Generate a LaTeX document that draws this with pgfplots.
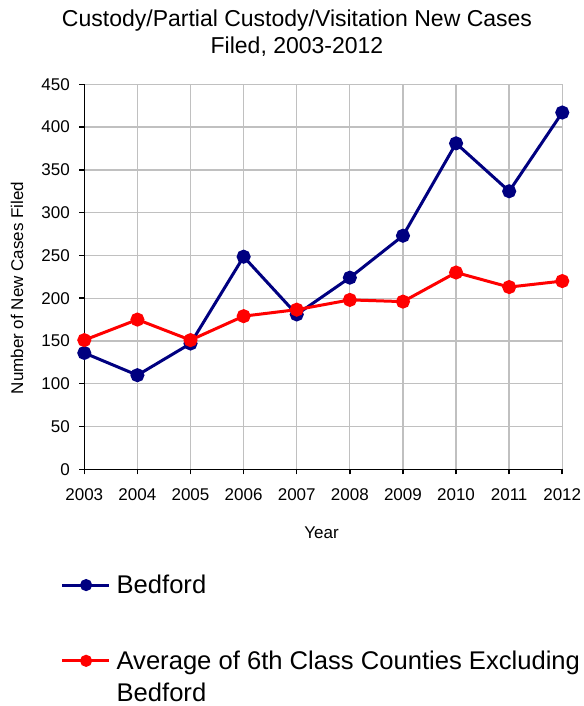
\documentclass[border=0pt]{standalone}
\usepackage{pgfplots}
\pgfplotsset{compat=1.18}
\usepackage{fontspec}
\setmainfont{Liberation Sans}
\definecolor{navyb}{RGB}{0,0,128}
\definecolor{redl}{RGB}{255,0,0}
\definecolor{gridg}{RGB}{192,192,192}
\begin{document}
\begin{tikzpicture}
\path[use as bounding box] (-84.3pt,-236.7pt) rectangle (498.7pt,469.3pt);
\begin{axis}[
  scale only axis,
  width=478pt, height=385pt,
  xmin=2003, xmax=2012, ymin=0, ymax=450,
  xtick={2003,2004,...,2012},
  ytick={0,50,...,450},
  /pgf/number format/assume math mode=true,
  x tick label style={/pgf/number format/1000 sep={}, yshift=-11pt},
  y tick label style={xshift=-6pt},
  axis x line*=bottom, axis y line*=left,
  axis line style={-, line width=1.5pt, black},
  tick align=outside,
  major tick length=5pt,
  tick style={line width=1.5pt, black},
  grid=major,
  grid style={line width=1.3pt, gridg},
  ticklabel style={font=\fontsize{17}{20}\selectfont},
  xlabel={Year},
  xlabel style={font=\fontsize{17}{20}\selectfont, at={(axis description cs:0.4965,-0.181)}, anchor=base},
  ylabel={Number of New Cases Filed},
  ylabel style={font=\fontsize{17}{20}\selectfont, at={(axis description cs:-0.1408,0.471)}, anchor=center, rotate=0},
  legend image code/.code={\draw[mark repeat=2,mark phase=2,mark size=4.5pt,#1] plot coordinates {(0pt,9pt)(24pt,9pt)(47pt,9pt)};},
  legend style={at={(axis description cs:-0.0500,-0.2885)}, anchor=north west, draw=none, fill=none,
    inner sep=0pt, column sep=6pt, row sep=61.5pt,
    font=\fontsize{25.6}{32}\selectfont,
    nodes={inner sep=0pt, anchor=west}},
  legend cell align=left,
  clip=false,
]
\addplot[navyb, line width=3pt, mark=*, mark size=5.5pt] coordinates {
(2003,136) (2004,110) (2005,147) (2006,248.5) (2007,181) (2008,224) (2009,273) (2010,381) (2011,325) (2012,417)};
\addlegendentry{\smash{Bedford}}
\addplot[redl, line width=3pt, mark=*, mark size=5.5pt] coordinates {
(2003,151) (2004,175) (2005,151) (2006,179) (2007,186.6) (2008,198) (2009,196) (2010,230) (2011,213) (2012,220)};
\addlegendentry{\smash{\begin{tabular}[t]{@{}l@{}}Average of 6th Class Counties Excluding\\Bedford\end{tabular}}}
\end{axis}
\node[anchor=base, inner sep=0pt, font=\fontsize{23}{26.7}\selectfont] at (212.7pt,442.6pt)
  {\begin{tabular}[t]{@{}c@{}}Custody/Partial Custody/Visitation New Cases\\Filed, 2003-2012\end{tabular}};
\end{tikzpicture}
\end{document}
